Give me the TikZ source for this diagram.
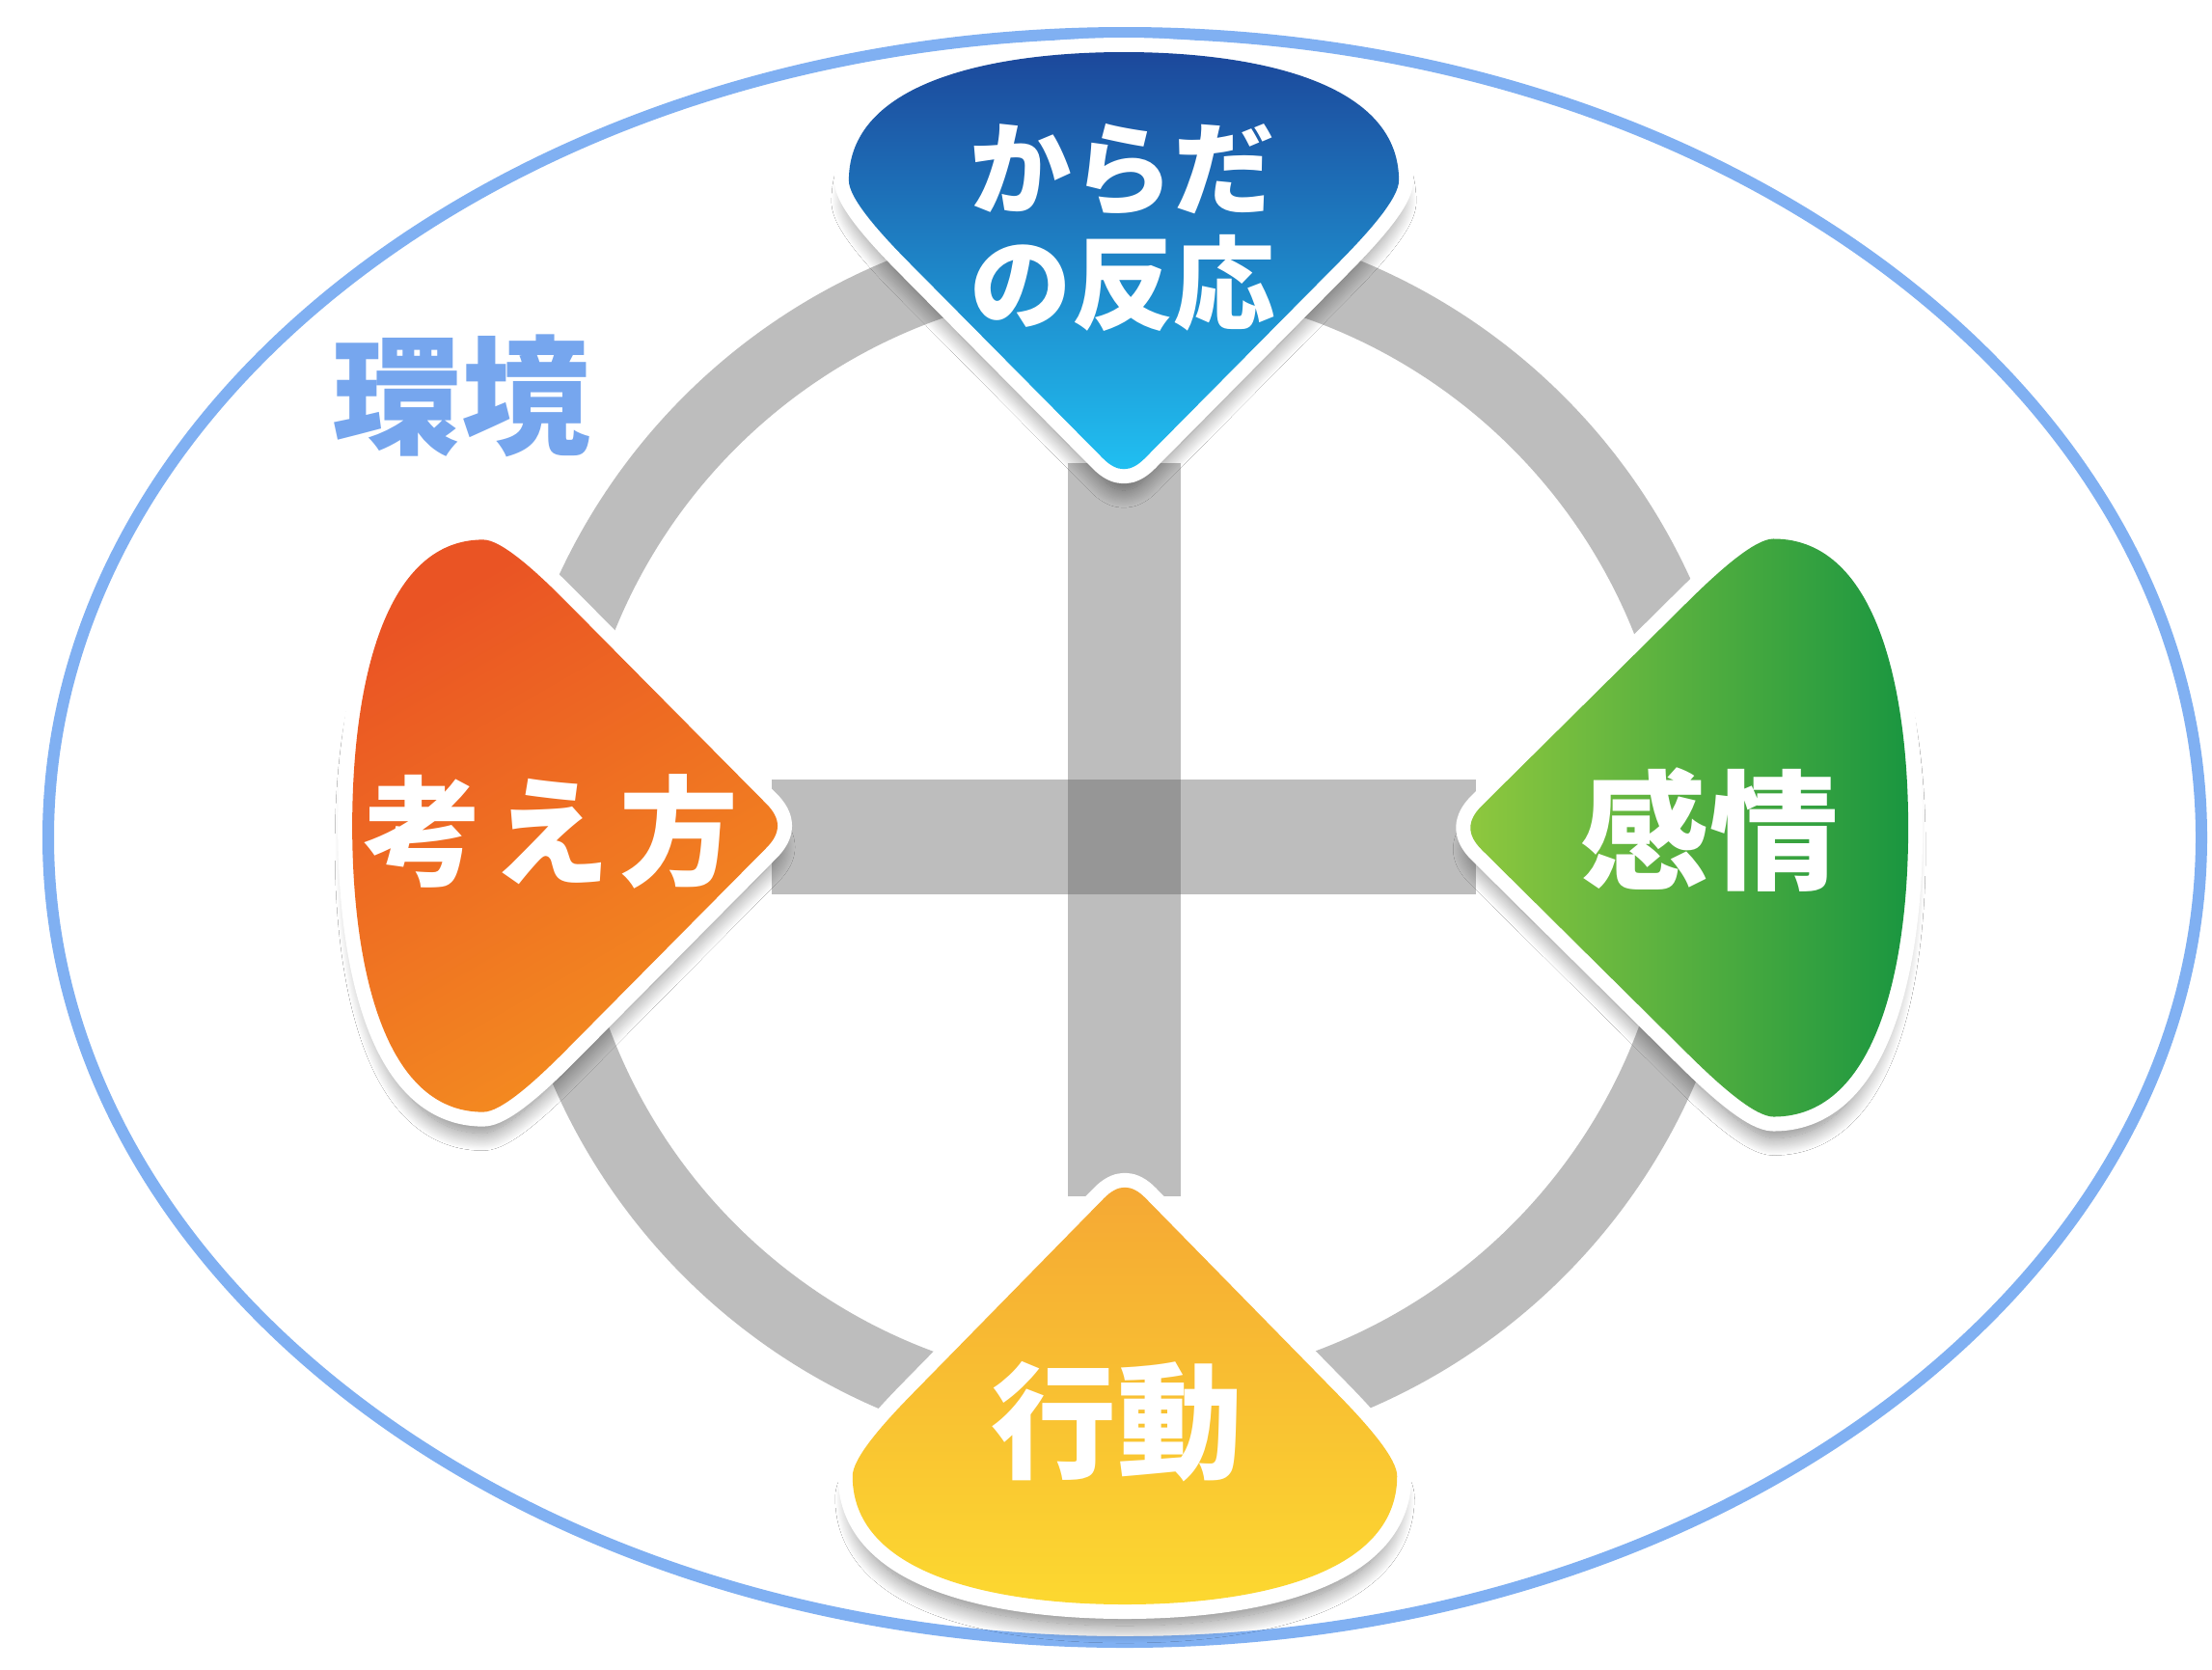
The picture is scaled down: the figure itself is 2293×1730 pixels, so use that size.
\documentclass[tikz,border=0pt]{standalone}
\usepackage{fontspec}
\newfontfamily\jp{Noto Sans CJK JP}
\usetikzlibrary{shadows.blur}
\definecolor{envblue}{RGB}{128,176,242}
\definecolor{envtext}{RGB}{118,166,238}
\definecolor{bargray}{RGB}{189,189,189}
\definecolor{crossgray}{RGB}{150,150,150}
\definecolor{blueA}{RGB}{28,72,155}
\definecolor{blueB}{RGB}{32,192,242}
\definecolor{orangeA}{RGB}{234,84,36}
\definecolor{orangeB}{RGB}{244,142,32}
\definecolor{greenA}{RGB}{143,200,62}
\definecolor{greenB}{RGB}{26,150,64}
\definecolor{yellowA}{RGB}{245,168,52}
\definecolor{yellowB}{RGB}{252,216,48}
\tikzset{
  envline/.style={draw=envblue, line width=1.2mm},
  ringline/.style={draw=bargray, line width=7.6mm},
  barfill/.style={fill=bargray},
  dropborder/.style={draw=white, fill=white, line width=3mm, line join=round,
    blur shadow={shadow xshift=0mm, shadow yshift=-2.2mm, shadow blur radius=1.8mm, shadow opacity=50, shadow blur steps=24}},
  droptext/.style={text=white, inner sep=0pt, align=center},
}
\newcommand\droppath{(-22,22) .. controls (-7,7) and (7,7) .. (22,22) -- (225,225) .. controls (258,258) and (288,292) .. (288,310) .. controls (288,415) and (130,443) .. (0,443) .. controls (-130,443) and (-288,415) .. (-288,310) .. controls (-288,292) and (-258,258) .. (-225,225) -- cycle}
\newcommand\dropshape[4]{%
  \begin{scope}[shift={#1}, x={#2}, y={#3}]
    \path[dropborder] \droppath;
    \path[#4] \droppath;
  \end{scope}}
\begin{document}
\begin{tikzpicture}[x=0.1mm, y=-0.1mm]
\useasboundingbox (0,0) rectangle (2293,1730);
\fill[white] (0,0) rectangle (2293,1730);
\coordinate (c) at (1165,867);
% environment ellipse
\draw[envline] (1166,868) ellipse [x radius=1116, y radius=834];
% ring
\draw[ringline] (c) circle [radius=607];
% cross
\fill[barfill] (1107,480) rectangle (1224,1240);
\fill[barfill] (800,808) rectangle (1530,927);
\fill[crossgray] (1107,808) rectangle (1224,927);
% droplets
\dropshape{(1165,497)}{(0.099mm,0mm)}{(0mm,0.1mm)}{top color=blueA, bottom color=blueB}
\dropshape{(817,856)}{(0mm,0.103mm)}{(-0.102mm,0mm)}{top color=orangeA, bottom color=orangeB, shading angle=30}
\dropshape{(1513,858)}{(0mm,0.104mm)}{(0.105mm,0mm)}{left color=greenA, right color=greenB}
\dropshape{(1166,1220)}{(0.098mm,0mm)}{(0mm,-0.1mm)}{top color=yellowA, bottom color=yellowB}
% texts
\node[droptext, font=\jp\bfseries\fontsize{30}{34}\selectfont] (karada) at (1164,236) {からだ\\の反応};
\node[droptext, font=\jp\bfseries\fontsize{35}{40}\selectfont] (kangae) at (571,862) {考\hspace{1mm}え\hspace{1mm}方};
\node[droptext, font=\jp\bfseries\fontsize{38}{44}\selectfont] (kanjo) at (1772,860) {感情};
\node[droptext, font=\jp\bfseries\fontsize{37}{44}\selectfont] (kodo) at (1158,1474) {行動};
\node[text=envtext, inner sep=0pt, font=\jp\bfseries\fontsize{38}{44}\selectfont] (kankyo) at (478,410) {環境};
\end{tikzpicture}
\end{document}
